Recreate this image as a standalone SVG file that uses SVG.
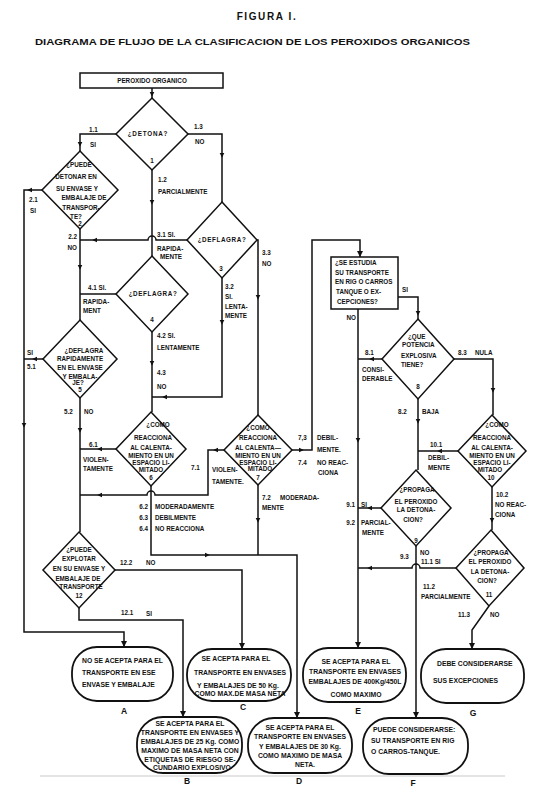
<svg xmlns="http://www.w3.org/2000/svg" width="533" height="805" viewBox="0 0 533 805">
<style>
text{font-family:"Liberation Sans",Arial,sans-serif;font-weight:bold;font-size:6.3px;fill:#111}
.m{text-anchor:middle}
.e{text-anchor:end}
.shape{fill:#fff;stroke:#111;stroke-width:1.5;stroke-linejoin:miter}
.term{fill:#fff;stroke:#111;stroke-width:1.8}
.tt{font-size:6.8px}
.ln{fill:none;stroke:#111;stroke-width:1.5}
.lt{font-size:8.5px}
.t1{font-size:10px;letter-spacing:1.6px}
.t2{font-size:9.3px}
</style>
<defs>
<path id="ad" d="M0,2.8 L-2.3,-2 L2.3,-2 Z" fill="#111"/>
<marker id="me" viewBox="0 0 6 6" refX="6" refY="3" markerWidth="6" markerHeight="6" orient="auto" markerUnits="userSpaceOnUse"><path d="M0,0 L6,3 L0,6 Z" fill="#111"/></marker>
</defs>
<rect width="533" height="805" fill="#fff"/>

<g id="title">
<text class="m t1" x="267" y="20">FIGURA I.</text>
<text class="t2" x="35" y="45" textLength="435" lengthAdjust="spacingAndGlyphs">DIAGRAMA DE FLUJO DE LA CLASIFICACION DE LOS PEROXIDOS ORGANICOS</text>
</g>

<g id="connectors">
<path class="ln" d="M152,88 V98"/>
<path class="ln" d="M116,134 H80 V151"/>
<path class="ln" d="M152,170 V256"/>
<path class="ln" d="M188,134 H222 V202"/>
<path class="ln" d="M42,190 H24 V632 H124 V647" marker-end="url(#me)"/>
<path class="ln" d="M80,229 V320"/>
<path class="ln" d="M187,240 H156 A4,4 0 0 0 148,240 H80"/>
<path class="ln" d="M222,278 V397 H152"/>
<path class="ln" d="M257,240 H258 V415"/>
<path class="ln" d="M116,294 H80"/>
<path class="ln" d="M152,332 V412"/>
<path class="ln" d="M43,359 H24"/>
<path class="ln" d="M80,398 V532"/>
<path class="ln" d="M116,449 H80"/>
<path class="ln" d="M151,486 V555 H297 V718" marker-end="url(#me)"/>
<path class="ln" d="M224,450 H208 V495 H155 A4,4 0 0 0 147,495 H80"/>
<path class="ln" d="M258,485 V555"/>
<path class="ln" d="M292,450 H312 V240 H360 V257" marker-end="url(#me)"/>
<path class="ln" d="M358,309 V648" marker-end="url(#me)"/>
<path class="ln" d="M398,297 H418 V319"/>
<path class="ln" d="M382,359 H358"/>
<path class="ln" d="M418,399 V470"/>
<path class="ln" d="M454,359 H493 V415"/>
<path class="ln" d="M458,451 H418"/>
<path class="ln" d="M381,508 H358"/>
<path class="ln" d="M416,546 V718" marker-end="url(#me)"/>
<path class="ln" d="M492,487 V530"/>
<path class="ln" d="M456,568 H420 A4,4 0 0 0 412,568 H358"/>
<path class="ln" d="M489,606 L472,630 V649" marker-end="url(#me)"/>
<path class="ln" d="M79,608 V620 H183 V717" marker-end="url(#me)"/>
<path class="ln" d="M115,570 H242 V649" marker-end="url(#me)"/>
<use href="#ad" x="152" y="94"/>
<use href="#ad" x="80" y="144"/>
<use href="#ad" x="152" y="202"/>
<use href="#ad" x="222" y="155"/>
<use href="#ad" x="24" y="425"/>
<use href="#ad" x="80" y="267"/>
<use href="#ad" x="222" y="322"/>
<use href="#ad" x="258" y="297"/>
<use href="#ad" x="152" y="363"/>
<use href="#ad" x="80" y="430"/>
<use href="#ad" x="258" y="520"/>
<use href="#ad" x="358" y="440"/>
<use href="#ad" x="418" y="313"/>
<use href="#ad" x="418" y="421"/>
<use href="#ad" x="493" y="390"/>
<use href="#ad" x="492" y="520"/>
<use href="#ad" transform="translate(30,190) rotate(90)"/>
<use href="#ad" transform="translate(95,240) rotate(90)"/>
<use href="#ad" transform="translate(165,397) rotate(90)"/>
<use href="#ad" transform="translate(35,359) rotate(90)"/>
<use href="#ad" transform="translate(100,449) rotate(90)"/>
<use href="#ad" transform="translate(100,495) rotate(90)"/>
<use href="#ad" transform="translate(216,450) rotate(90)"/>
<use href="#ad" transform="translate(207,555) rotate(-90)"/>
<use href="#ad" transform="translate(301,450) rotate(-90)"/>
<use href="#ad" transform="translate(372,359) rotate(90)"/>
<use href="#ad" transform="translate(440,451) rotate(90)"/>
<use href="#ad" transform="translate(370,508) rotate(90)"/>
<use href="#ad" transform="translate(370,568) rotate(90)"/>
<path d="M40,776 H505" stroke="#c8c8c8" stroke-width="1" fill="none"/>
</g>

<g id="labels">
<text x="89" y="132">1.1</text><text x="90" y="147">SI</text>
<text x="194" y="129">1.3</text><text x="195" y="144">NO</text>
<text x="158" y="182">1.2</text><text x="158" y="194">PARCIALMENTE</text>
<text x="29" y="202">2.1</text><text x="30" y="213">SI</text>
<text class="e" x="77" y="239">2.2</text><text class="e" x="77" y="250">NO</text>
<text x="157" y="237">3.1 SI.</text><text x="157" y="251">RAPIDA-</text><text x="160" y="259">MENTE</text>
<text x="225" y="289">3.2</text><text x="225" y="299">SI.</text><text x="225" y="309">LENTA-</text><text x="225" y="318">MENTE</text>
<text x="262" y="255">3.3</text><text x="262" y="266">NO</text>
<text x="88" y="290">4.1 SI.</text><text x="83" y="304">RAPIDA-</text><text x="83" y="313">MENT</text>
<text x="157" y="338">4.2 SI.</text><text x="157" y="350">LENTAMENTE</text>
<text x="157" y="375">4.3</text><text x="157" y="389">NO</text>
<text x="27" y="355">SI</text><text x="27" y="369">5.1</text>
<text x="64" y="414">5.2</text><text x="84" y="414">NO</text>
<text x="89" y="447">6.1</text><text x="83" y="462">VIOLEN-</text><text x="83" y="471">TAMENTE</text>
<text class="e" x="148" y="509">6.2</text><text x="155" y="509">MODERADAMENTE</text>
<text class="e" x="148" y="520">6.3</text><text x="155" y="520">DEBILMENTE</text>
<text class="e" x="148" y="531">6.4</text><text x="155" y="531">NO REACCIONA</text>
<text x="191" y="470">7.1</text><text x="212" y="472">VIOLEN-</text><text x="212" y="484">TAMENTE.</text>
<text x="262" y="500">7.2</text><text x="280" y="500">MODERADA-</text><text x="262" y="510">MENTE</text>
<text x="298" y="440">7,3</text><text x="317" y="440">DEBIL-</text><text x="317" y="452">MENTE.</text>
<text x="298" y="465">7.4</text><text x="317" y="465">NO REAC-</text><text x="318" y="475">CIONA</text>
<text class="e" x="356" y="320">NO</text>
<text x="402" y="292">SI</text>
<text x="365" y="355">8.1</text><text x="362" y="372">CONSI-</text><text x="362" y="381">DERABLE</text>
<text x="398" y="414">8.2</text><text x="422" y="414">BAJA</text>
<text x="458" y="355">8.3</text><text x="475" y="355">NULA</text>
<text x="430" y="447">10.1</text><text x="428" y="460">DEBIL-</text><text x="428" y="470">MENTE</text>
<text class="e" x="355" y="507">9.1</text><text x="361" y="507">SI</text>
<text class="e" x="355" y="525">9.2</text><text x="361" y="525">PARCIAL-</text><text x="362" y="535">MENTE</text>
<text x="400" y="559">9.3</text><text x="420" y="555">NO</text>
<text x="421" y="564">11.1 SI</text>
<text x="496" y="497">10.2</text><text x="495" y="507">NO REAC-</text><text x="495" y="517">CIONA</text>
<text x="423" y="589">11.2</text><text x="421" y="599">PARCIALMENTE</text>
<text x="458" y="617">11.3</text><text x="490" y="617">NO</text>
<text x="120" y="565">12.2</text><text x="146" y="565">NO</text>
<text x="121" y="615">12.1</text><text x="146" y="616">SI</text>
</g>

<g id="n0">
<rect class="shape" x="80" y="73" width="143" height="15"/>
<text class="m" x="152" y="83">PEROXIDO ORGANICO</text>
</g>

<g id="n1">
<polygon class="shape" points="152,98 188,134 152,170 116,134"/>
<text class="m" x="148" y="136" letter-spacing="0.8">¿DETONA?</text>
<text class="m" x="152" y="163">1</text>
</g>

<g id="n2">
<polygon class="shape" points="80,151 118,190 80,229 42,190"/>
<text class="m" x="79" y="167">¿PUEDE</text>
<text class="m" x="76" y="179">DETONAR EN</text>
<text class="m" x="77" y="191">SU ENVASE Y</text>
<text class="m" x="84" y="200">EMBALAJE DE</text>
<text class="m" x="81" y="210">TRANSPOR-</text>
<text class="m" x="76" y="219">TE?</text>
<text class="m" x="80" y="226">2</text>
</g>

<g id="n3">
<polygon class="shape" points="222,202 257,240 222,278 187,240"/>
<text class="m" x="222" y="242" letter-spacing="0.6">¿DEFLAGRA?</text>
<text class="m" x="221" y="271">3</text>
</g>

<g id="n4">
<polygon class="shape" points="152,256 188,294 152,332 116,294"/>
<text class="m" x="153" y="296" letter-spacing="0.6">¿DEFLAGRA?</text>
<text class="m" x="152" y="322">4</text>
</g>

<g id="n5">
<polygon class="shape" points="80,320 117,359 80,398 43,359"/>
<text class="m" x="84" y="353">¿DEFLAGRA</text>
<text class="m" x="80" y="361">RAPIDAMENTE</text>
<text class="m" x="80" y="370">EN EL ENVASE</text>
<text class="m" x="80" y="379">Y EMBALA-</text>
<text class="m" x="78" y="385">JE?</text>
<text class="m" x="80" y="392">5</text>
</g>

<g id="n6">
<polygon class="shape" points="151,412 186,449 151,486 116,449"/>
<text class="m" x="158" y="427">¿COMO</text>
<text class="m" x="153" y="440">REACCIONA</text>
<text class="m" x="151" y="450">AL CALENTA-</text>
<text class="m" x="151" y="458">MIENTO EN UN</text>
<text class="m" x="151" y="465">ESPACIO LI-</text>
<text class="m" x="151" y="472">MITADO</text>
<text class="m" x="151" y="480">6</text>
</g>

<g id="n7">
<polygon class="shape" points="258,415 292,450 258,485 224,450"/>
<text class="m" x="258" y="430">¿COMO</text>
<text class="m" x="258" y="440">REACCIONA</text>
<text class="m" x="258" y="450">AL CALENTA—</text>
<text class="m" x="258" y="458">MIENTO EN UN</text>
<text class="m" x="258" y="465">ESPACIO LI-</text>
<text class="m" x="260" y="471">MITADO</text>
<text class="m" x="258" y="480">7</text>
</g>

<g id="n13">
<rect class="shape" x="331" y="257" width="67" height="52"/>
<text x="335" y="265">¿SE ESTUDIA</text>
<text x="335" y="275">SU TRANSPORTE</text>
<text x="335" y="284">EN RIG O CARROS</text>
<text x="336" y="294">TANQUE O EX-</text>
<text x="337" y="304">CEPCIONES?</text>
</g>

<g id="n8">
<polygon class="shape" points="418,319 454,359 418,399 382,359"/>
<text x="408" y="339">¿QUE</text>
<text x="402" y="347">POTENCIA</text>
<text x="401" y="358">EXPLOSIVA</text>
<text x="401" y="367">TIENE?</text>
<text class="m" x="418" y="389">8</text>
</g>

<g id="n9">
<polygon class="shape" points="416,470 451,508 416,546 381,508"/>
<text class="m" x="417" y="492">¿PROPAGA</text>
<text class="m" x="416" y="504">EL PEROXIDO</text>
<text class="m" x="416" y="512">LA DETONA-</text>
<text class="m" x="413" y="522">CION?</text>
<text class="m" x="416" y="543">9</text>
</g>

<g id="n10">
<polygon class="shape" points="492,415 526,451 492,487 458,451"/>
<text class="m" x="497" y="427">¿COMO</text>
<text class="m" x="492" y="440">REACCIONA</text>
<text class="m" x="492" y="450">AL CALENTA-</text>
<text class="m" x="492" y="458">MIENTO EN UN</text>
<text class="m" x="492" y="465">ESPACIO LI-</text>
<text class="m" x="490" y="472">MITADO</text>
<text class="m" x="491" y="480">10</text>
</g>

<g id="n11">
<polygon class="shape" points="491,530 524,568 489,606 456,568"/>
<text class="m" x="491" y="555">¿PROPAGA</text>
<text class="m" x="490" y="564">EL PEROXIDO</text>
<text class="m" x="490" y="574">LA DETONA-</text>
<text class="m" x="487" y="583">CION?</text>
<text class="m" x="489" y="597">11</text>
</g>

<g id="n12">
<polygon class="shape" points="79,532 115,570 79,608 43,570"/>
<text class="m" x="79" y="552">¿PUEDE</text>
<text class="m" x="79" y="561">EXPLOTAR</text>
<text class="m" x="79" y="571">EN SU ENVASE Y</text>
<text class="m" x="78" y="581">EMBALAJE DE</text>
<text class="m" x="81" y="589">TRANSPORTE</text>
<text class="m" x="79" y="598">12</text>
</g>

<g id="nA">
<rect class="term" x="72" y="647" width="101" height="54" rx="25"/>
<text class="tt" x="82" y="663">NO SE ACEPTA PARA EL</text>
<text class="tt" x="82" y="675">TRANSPORTE EN ESE</text>
<text class="tt" x="82" y="687">ENVASE Y EMBALAJE</text>
<text class="m lt" x="124" y="714">A</text>
</g>

<g id="nB">
<rect class="term" x="137" y="717" width="105" height="56" rx="26"/>
<text class="m tt" x="190" y="726">SE ACEPTA PARA EL</text>
<text class="m tt" x="190" y="735">TRANSPORTE EN ENVASES Y</text>
<text class="m tt" x="190" y="744">EMBALAJES DE 25 Kg. COMO</text>
<text class="m tt" x="190" y="753">MAXIMO DE MASA NETA CON</text>
<text class="m tt" x="190" y="762">ETIQUETAS DE RIESGO SE-</text>
<text class="m tt" x="192" y="770">CUNDARIO EXPLOSIVO</text>
<text class="m lt" x="187" y="784">B</text>
</g>

<g id="nC">
<rect class="term" x="187" y="649" width="104" height="52" rx="25"/>
<text class="m tt" x="236" y="661">SE ACEPTA PARA EL</text>
<text class="m tt" x="240" y="675">TRANSPORTE EN ENVASES</text>
<text class="m tt" x="238" y="688">Y EMBALAJES DE 50 Kg.</text>
<text class="m tt" x="240" y="696">COMO MAX.DE MASA NETA</text>
<text class="m lt" x="243" y="710">C</text>
</g>

<g id="nD">
<rect class="term" x="248" y="718" width="104" height="55" rx="26"/>
<text class="m tt" x="300" y="730">SE ACEPTA PARA EL</text>
<text class="m tt" x="300" y="739">TRANSPORTE EN ENVASES</text>
<text class="m tt" x="300" y="749">Y EMBALAJES DE 30 Kg.</text>
<text class="m tt" x="300" y="758">COMO MAXIMO DE MASA</text>
<text class="m tt" x="305" y="767">NETA.</text>
<text class="m lt" x="299" y="784">D</text>
</g>

<g id="nE">
<rect class="term" x="303" y="648" width="103" height="54" rx="25"/>
<text class="m tt" x="356" y="664">SE ACEPTA PARA EL</text>
<text class="m tt" x="355" y="674">TRANSPORTE EN ENVASES</text>
<text class="m tt" x="355" y="684">EMBALAJES DE 400Kg/450L</text>
<text class="m tt" x="356" y="697">COMO MAXIMO</text>
<text class="m lt" x="358" y="714">E</text>
</g>

<g id="nF">
<rect class="term" x="363" y="718" width="105" height="56" rx="26"/>
<text class="tt" x="373" y="732">PUEDE CONSIDERARSE:</text>
<text class="tt" x="371" y="743">SU TRANSPORTE EN RIG</text>
<text class="tt" x="371" y="754">O CARROS-TANQUE.</text>
<text class="m lt" x="413" y="786">F</text>
</g>

<g id="nG">
<rect class="term" x="421" y="649" width="103" height="54" rx="25"/>
<text class="tt" x="437" y="666">DEBE CONSIDERARSE</text>
<text class="tt" x="433" y="683">SUS EXCEPCIONES</text>
<text class="m lt" x="473" y="716">G</text>
</g>
</svg>
